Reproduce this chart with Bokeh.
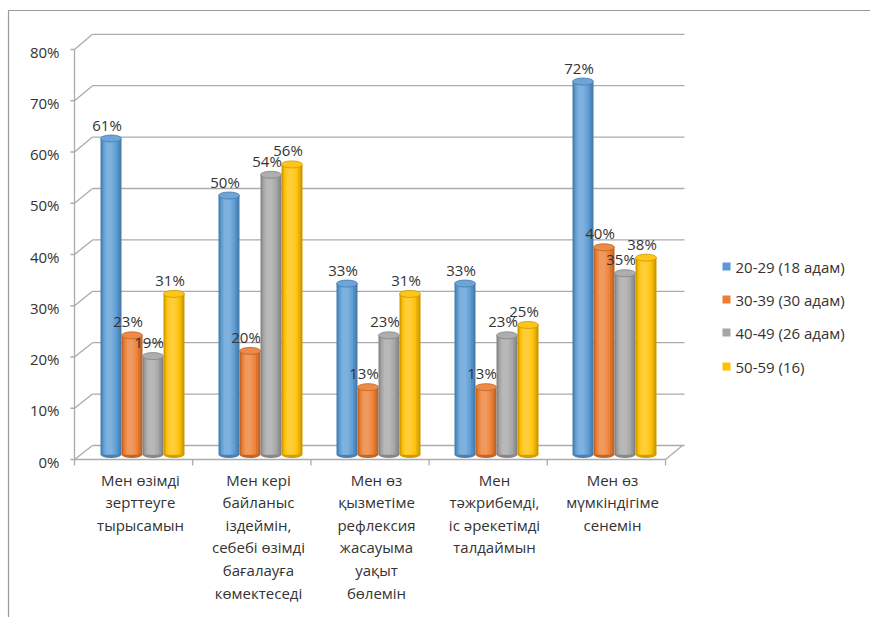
from bokeh.plotting import figure
from bokeh.models import Range1d
from bokeh.core.properties import value
from bokeh.embed import file_html
from bokeh.resources import INLINE

# ---- data -------------------------------------------------------------
categories = [
    "Мен өзімді\nзерттеуге\nтырысамын",
    "Мен кері\nбайланыс\nіздеймін,\nсебебі өзімді\nбағалауға\nкөмектеседі",
    "Мен өз\nқызметіме\nрефлексия\nжасауыма\nуақыт\nбөлемін",
    "Мен\nтәжрибемді,\nіс әрекетімді\nталдаймын",
    "Мен өз\nмүмкіндігіме\nсенемін",
]
series_names = ["20-29 (18 адам)", "30-39 (30 адам)", "40-49 (26 адам)", "50-59 (16)"]
age_20_29 = [61, 50, 33, 33, 72]
age_30_39 = [23, 20, 13, 13, 40]
age_40_49 = [19, 54, 23, 23, 35]
age_50_59 = [31, 56, 31, 25, 38]
series_values = [age_20_29, age_30_39, age_40_49, age_50_59]
series_colors = ["#5B9BD5", "#ED7D31", "#A5A5A5", "#FFC000"]
y_ticks = [0, 10, 20, 30, 40, 50, 60, 70, 80]

FONT = value("Open Sans")
TXT = "#333333"
GRID = "#ababab"

# ---- layout helpers (canvas pixels -> data units) ---------------------
W, H = 870, 617
Y0, PX_PER_PCT = 454.0, 5.18      # baseline row and pixels per percent
X0, PX_PER_GROUP = 142.0, 118.0   # first group centre and group pitch


def dx(px):
    return (px - X0) / PX_PER_GROUP


def dy(py):
    return (Y0 - py) / PX_PER_PCT


def front_row(v):   # front axis tick row for a percentage
    return 459.0 - 5.125 * v


def back_row(v):    # back wall gridline row for a percentage
    return 445.0 - 5.14 * v


def shade(hex_color, f):
    r, g, b = (int(hex_color[i:i + 2], 16) for i in (1, 3, 5))
    if f >= 1:
        t = f - 1
        r, g, b = (c + (255 - c) * t for c in (r, g, b))
    else:
        r, g, b = (c * f for c in (r, g, b))
    return "#%02x%02x%02x" % tuple(int(max(0, min(255, c))) for c in (r, g, b))


p = figure(width=W, height=H, output_backend="svg", toolbar_location=None,
           x_range=Range1d(dx(0), dx(W)), y_range=Range1d(dy(H), dy(0)),
           x_axis_location=None, y_axis_location=None, min_border=0,
           outline_line_color=None, background_fill_color="white",
           border_fill_color="white")
p.grid.visible = False

# outer chart border
p.line([dx(8), dx(8), dx(W)], [dy(H), dy(10), dy(10)], line_color="#9a9a9a", line_width=1.2)

# back wall gridlines with slanted joins to the front axis
gx0, gy0, gx1, gy1 = [], [], [], []
for v in y_ticks:
    gx0 += [dx(74), dx(92), dx(70)]
    gy0 += [dy(front_row(v)), dy(back_row(v)), dy(front_row(v))]
    gx1 += [dx(92), dx(684), dx(74)]
    gy1 += [dy(back_row(v)), dy(back_row(v)), dy(front_row(v))]
p.segment(gx0, gy0, gx1, gy1, line_color=GRID, line_width=1.3)

# front value axis and floor edges
p.line([dx(74), dx(74)], [dy(front_row(80)), dy(459)], line_color=GRID, line_width=1.3)
p.line([dx(74), dx(665), dx(682)], [dy(459), dy(459), dy(445)], line_color=GRID, line_width=1.3)
tick_x = [dx(74 + 118.2 * k) for k in range(len(categories) + 1)]
p.segment(tick_x, [dy(459)] * len(tick_x), tick_x, [dy(465)] * len(tick_x),
          line_color=GRID, line_width=1.3)

# y tick labels
p.text(x=[dx(59)] * len(y_ticks), y=[dy(front_row(v) + 2) for v in y_ticks],
       text=[f"{v}%" for v in y_ticks], text_font=FONT, text_font_size="15px",
       text_color=TXT, text_align="right", text_baseline="middle")

# cylinder columns: a dark full-width body with lighter, narrower layers on top
bar_w = 21.0 / PX_PER_GROUP
layers = [(1.00, 0.80), (0.84, 0.92), (0.66, 1.04), (0.48, 1.14), (0.30, 1.22)]
groups = list(range(len(categories)))
for s, (vals, col) in enumerate(zip(series_values, series_colors)):
    centers = [g + (s - 1.5) * bar_w for g in groups]
    # rounded foot
    p.ellipse(x=centers, y=[0] * len(vals), width=21, height=7,
              width_units="screen", height_units="screen",
              fill_color=shade(col, 0.82), line_color=None)
    for frac, f in layers:
        shift = -(1 - frac) * bar_w * 0.12
        p.vbar(x=[c + shift for c in centers], top=vals, bottom=0, width=bar_w * frac,
               fill_color=shade(col, f), line_color=None)
    # top cap
    p.ellipse(x=centers, y=vals, width=21, height=7,
              width_units="screen", height_units="screen",
              fill_color=shade(col, 1.1), line_color=shade(col, 0.8), line_width=0.8)
    # value labels
    p.text(x=[c - 4 / PX_PER_GROUP for c in centers],
           y=[v + 14 / PX_PER_PCT for v in vals],
           text=[f"{v}%" for v in vals], text_font=FONT, text_font_size="15px",
           text_color=TXT, text_align="center", text_baseline="middle")

# category labels
p.text(x=[g - 2 / PX_PER_GROUP for g in groups], y=[dy(469)] * len(groups),
       text=categories, text_font=FONT, text_font_size="15px", text_color=TXT,
       text_align="center", text_baseline="top", text_line_height=1.13)

# legend
rows = [266, 299, 332, 366]
p.scatter(x=[dx(726)] * 4, y=[dy(r) for r in rows], marker="square", size=8,
          fill_color=series_colors, line_color=None)
p.text(x=[dx(735)] * 4, y=[dy(r) for r in rows], text=series_names,
       text_font=FONT, text_font_size="15px", text_color=TXT,
       text_align="left", text_baseline="middle")

open("out.html", "w").write(file_html(p, INLINE))
